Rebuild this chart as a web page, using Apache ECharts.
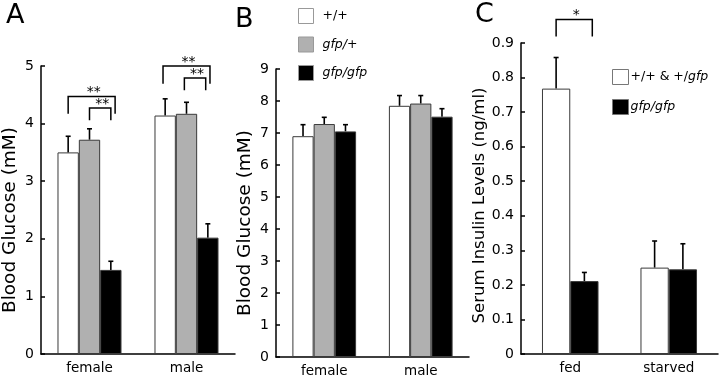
<!DOCTYPE html>
<html>
<head>
<meta charset="utf-8">
<script src="https://cdn.jsdelivr.net/npm/echarts@6/dist/echarts.min.js"></script>
<style>
  html, body { margin: 0; padding: 0; background: #fff; }
  #chart { width: 720px; height: 384px; }
</style>
</head>
<body>
<div id="chart"></div>
<script>
// panel A / B: blood glucose by sex
const sexes = ['female', 'male'];
const glucoseA_wt = [3.50, 4.14];
const glucoseA_het = [3.72, 4.17];
const glucoseA_hom = [1.46, 2.02];
const glucoseA_wtErr = [0.28, 0.29];
const glucoseA_hetErr = [0.19, 0.20];
const glucoseA_homErr = [0.15, 0.24];

const glucoseB_wt = [6.90, 7.85];
const glucoseB_het = [7.28, 7.92];
const glucoseB_hom = [7.05, 7.51];
const glucoseB_wtErr = [0.36, 0.32];
const glucoseB_hetErr = [0.21, 0.25];
const glucoseB_homErr = [0.21, 0.25];

// panel C: serum insulin
const feeding = ['fed', 'starved'];
const insulin_ctrl = [0.768, 0.250];
const insulin_hom = [0.211, 0.245];
const insulin_ctrlErr = [0.090, 0.077];
const insulin_homErr = [0.025, 0.074];

// significance brackets: [category, left bar, right bar, top value, leg bottom value]
const bracketsA = [
  [0, 0, 2.2, 4.47, 4.17],
  [0, 1, 2, 4.27, 4.06],
  [1, -0.1, 2.1, 5.0, 4.69],
  [1, 0.9, 1.9, 4.79, 4.58]
];
const starsA = ['**', '**', '**', '**'];
const bracketsC = [[0, 0, 1.28, 0.968, 0.919]];
const starsC = ['*'];

const FONT = 'DejaVu Sans';
const WHITE = '#ffffff', GRAY = '#b0b0b0', BLACK = '#000000';

function bars(name, gi, values, color, width) {
  return {
    type: 'bar', name: name, xAxisIndex: gi, yAxisIndex: gi,
    data: values, barWidth: width, barGap: '0%',
    itemStyle: { color: color, borderColor: '#3a3a3a', borderWidth: 1 },
    emphasis: { disabled: true }
  };
}

function errBars(gi, values, errs, idx, n, frac) {
  return {
    type: 'custom', xAxisIndex: gi, yAxisIndex: gi, z: 1,
    data: values.map((v, i) => [i, v, errs[i]]),
    encode: { x: 0, y: 1 },
    renderItem: function (params, api) {
      const band = api.size([1, 0])[0];
      const base = api.coord([api.value(0), api.value(1)]);
      const top = api.coord([api.value(0), api.value(1) + api.value(2)]);
      const x = base[0] + (idx - (n - 1) / 2) * band * frac;
      const st = { stroke: '#000', lineWidth: 1.6 };
      return {
        type: 'group', children: [
          { type: 'line', shape: { x1: x, y1: base[1], x2: x, y2: top[1] }, style: st },
          { type: 'line', shape: { x1: x - 2.5, y1: top[1], x2: x + 2.5, y2: top[1] }, style: st }
        ]
      };
    }
  };
}

function brackets(gi, list, labels, n, frac) {
  return {
    type: 'custom', xAxisIndex: gi, yAxisIndex: gi, z: 5,
    data: list,
    encode: { x: 0, y: 3 },
    renderItem: function (params, api) {
      const band = api.size([1, 0])[0];
      const c = api.coord([api.value(0), api.value(3)]);
      const yLeg = api.coord([api.value(0), api.value(4)])[1];
      const xl = c[0] + (api.value(1) - (n - 1) / 2) * band * frac;
      const xr = c[0] + (api.value(2) - (n - 1) / 2) * band * frac;
      return {
        type: 'group', children: [
          { type: 'polyline', shape: { points: [[xl, yLeg], [xl, c[1]], [xr, c[1]], [xr, yLeg]] },
            style: { stroke: '#000', lineWidth: 1.5, fill: null } },
          { type: 'text', x: (xl + xr) / 2 + 2, y: c[1] + 3,
            style: { text: labels[params.dataIndex], fontFamily: FONT, fontSize: 14,
                     fill: '#000', align: 'center', verticalAlign: 'bottom' } }
        ]
      };
    }
  };
}

function xAxis(gi, cats) {
  return {
    type: 'category', gridIndex: gi, data: cats,
    axisLine: { lineStyle: { color: '#000', width: 1.5 } },
    axisTick: { inside: true, length: 5, lineStyle: { color: '#000', width: 1.5 } },
    axisLabel: { color: '#000', fontFamily: FONT, fontSize: 13.5, margin: 7 }
  };
}

function yAxis(gi, max, step, title, gap, size, shift) {
  return {
    type: 'value', gridIndex: gi, min: 0, max: max, interval: step,
    name: title, nameLocation: 'middle', nameGap: gap, nameRotate: 90,
    nameTextStyle: { color: '#000', fontFamily: FONT, fontSize: size, padding: [0, shift, 0, 0] },
    axisLine: { show: true, lineStyle: { color: '#000', width: 1.5 } },
    axisTick: { show: true, inside: true, length: 4, lineStyle: { color: '#000', width: 1.5 } },
    axisLabel: { color: '#000', fontFamily: FONT, fontSize: 14, margin: 7 },
    splitLine: { show: false }
  };
}

const fracAB = 0.22, fracC = 0.287;

const option = {
  animation: false,
  textStyle: { fontFamily: FONT, color: '#000' },
  title: [
    { text: 'A', left: 1, top: -3, textStyle: { fontFamily: FONT, fontSize: 27, fontWeight: 'normal', color: '#000' } },
    { text: 'B', left: 230, top: 1, textStyle: { fontFamily: FONT, fontSize: 27, fontWeight: 'normal', color: '#000' } },
    { text: 'C', left: 470, top: -4, textStyle: { fontFamily: FONT, fontSize: 27, fontWeight: 'normal', color: '#000' } }
  ],
  legend: [
    {
      data: ['+/+', 'gfp/+', 'gfp/gfp'], orient: 'vertical', left: 293, top: 3,
      icon: 'rect', itemWidth: 15, itemHeight: 15, itemGap: 12.5, selectedMode: false,
      itemStyle: { borderColor: '#999', borderWidth: 1 },
      formatter: n => n === '+/+' ? n : '{i|' + n + '}',
      textStyle: { fontFamily: FONT, fontSize: 12.5, color: '#000', padding: [0, 0, 0, 4],
                   rich: { i: { fontStyle: 'italic', fontFamily: FONT, fontSize: 12.5 } } }
    },
    {
      data: ['+/+ & +/gfp', 'gfp/gfp'], orient: 'vertical', left: 607, top: 64,
      icon: 'rect', itemWidth: 16, itemHeight: 15, itemGap: 14, selectedMode: false,
      itemStyle: { borderColor: '#777', borderWidth: 1 },
      formatter: n => n === 'gfp/gfp' ? '{i|gfp/gfp}' : '+/+ & +/{i|gfp}',
      textStyle: { fontFamily: FONT, fontSize: 12.5, color: '#000', padding: [0, 0, 0, -3],
                   rich: { i: { fontStyle: 'italic', fontFamily: FONT, fontSize: 12.5 } } }
    }
  ],
  grid: [
    { left: 41, top: 66, width: 194, height: 288 },
    { left: 276, top: 69, width: 193, height: 288 },
    { left: 521, top: 43, width: 197, height: 311 }
  ],
  xAxis: [xAxis(0, sexes), xAxis(1, sexes), xAxis(2, feeding)],
  yAxis: [
    yAxis(0, 5, 1, 'Blood Glucose (mM)', 21, 18.5, 20),
    yAxis(1, 9, 1, 'Blood Glucose (mM)', 21, 18.5, 20),
    yAxis(2, 0.9, 0.1, 'Serum Insulin Levels (ng/ml)', 33, 16.5, 14)
  ],
  series: [
    bars('+/+', 0, glucoseA_wt, WHITE, '22%'),
    bars('gfp/+', 0, glucoseA_het, GRAY, '22%'),
    bars('gfp/gfp', 0, glucoseA_hom, BLACK, '22%'),
    errBars(0, glucoseA_wt, glucoseA_wtErr, 0, 3, fracAB),
    errBars(0, glucoseA_het, glucoseA_hetErr, 1, 3, fracAB),
    errBars(0, glucoseA_hom, glucoseA_homErr, 2, 3, fracAB),
    brackets(0, bracketsA, starsA, 3, fracAB),

    bars('+/+', 1, glucoseB_wt, WHITE, '22%'),
    bars('gfp/+', 1, glucoseB_het, GRAY, '22%'),
    bars('gfp/gfp', 1, glucoseB_hom, BLACK, '22%'),
    errBars(1, glucoseB_wt, glucoseB_wtErr, 0, 3, fracAB),
    errBars(1, glucoseB_het, glucoseB_hetErr, 1, 3, fracAB),
    errBars(1, glucoseB_hom, glucoseB_homErr, 2, 3, fracAB),

    bars('+/+ & +/gfp', 2, insulin_ctrl, WHITE, '28.7%'),
    bars('gfp/gfp', 2, insulin_hom, BLACK, '28.7%'),
    errBars(2, insulin_ctrl, insulin_ctrlErr, 0, 2, fracC),
    errBars(2, insulin_hom, insulin_homErr, 1, 2, fracC),
    brackets(2, bracketsC, starsC, 2, fracC)
  ]
};

const chart = echarts.init(document.getElementById('chart'));
chart.setOption(option);
</script>
</body>
</html>
